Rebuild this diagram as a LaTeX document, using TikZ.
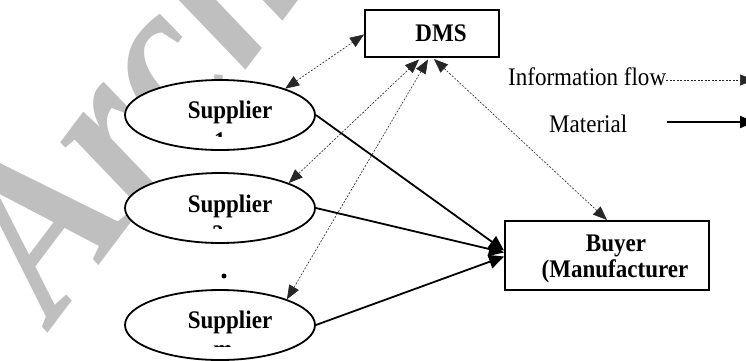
\documentclass[tikz,border=0pt]{standalone}
\usepackage{fontspec}
\setmainfont{Liberation Serif}[FakeStretch=0.91]
\newfontfamily\stampfont{Liberation Serif}
\usetikzlibrary{shapes.geometric,arrows.meta}
\begin{document}
\begin{tikzpicture}[x=1pt,y=-1pt,
  lbl/.style={font=\fontsize{25.3}{28}\selectfont\bfseries, inner sep=0pt},
  legendtext/.style={font=\fontsize{25.3}{28}\selectfont, inner sep=0pt},
  supplier/.style={ellipse, draw, line width=1.8pt, fill=white,
    minimum width=190pt, minimum height=70pt, inner sep=0pt},
  box/.style={rectangle, draw, line width=2pt, fill=white, inner sep=0pt},
  infotip/.tip={Triangle[length=14pt,width=11pt]},
  mattip/.tip={Triangle[length=15pt,width=14pt]},
  info/.style={dash pattern=on 2pt off 1.5pt, line width=0.6pt, draw=black!85},
  material/.style={line width=1.8pt, -mattip},
  stamp/.style={font=\stampfont\fontsize{210}{215}\selectfont\bfseries\itshape,
    text=black!25, inner sep=0pt}
]
\useasboundingbox[fill=white] (0,0) rectangle (746,360);

% background stamp
\node[stamp, anchor=base west, rotate=53, yscale=1.08] (stamp) at (54,325) {Archive of SID};

% boxes
\node[box, minimum width=134pt, minimum height=47pt] (dms) at (432,33.5) {};
\node[lbl, anchor=base] (dmst) at (441,41) {DMS};

\node[box, minimum width=204pt, minimum height=69pt] (buyer) at (607,255.5) {};
\node[lbl, anchor=base] (buyert) at (616,251) {Buyer};
\node[lbl, anchor=base] (buyert2) at (615,277) {(Manufacturer};

% suppliers
\node[supplier] (s1) at (220,115) {};
\node[supplier] (s2) at (220,208) {};
\node[supplier] (sm) at (220,325) {};

\node[lbl, anchor=base] (s1t) at (230,118) {Supplier};
\node[lbl, anchor=base] (s2t) at (230,212) {Supplier};
\node[lbl, anchor=base] (smt) at (230,328) {Supplier};

% second lines, cut short by the ellipse text area
\begin{scope}
  \clip (150,100) rectangle (300,136);
  \node[lbl, anchor=base] (s1n) at (220,149) {1};
\end{scope}
\begin{scope}
  \clip (150,200) rectangle (300,228);
  \node[lbl, anchor=base] (s2n) at (218,242.5) {2};
\end{scope}
\begin{scope}
  \clip (150,330) rectangle (300,346);
  \node[lbl, anchor=base] (smn) at (223,357.5) {m};
\end{scope}

\node[circle, fill, inner sep=0pt, minimum size=5pt] (dot) at (224,276) {};

% information flow
\draw[info, infotip-infotip] (s1.22) -- ([yshift=-1pt]dms.west);
\draw[info, infotip-infotip] (s2.20) -- ([xshift=-13pt,yshift=-1.5pt]dms.south);
\draw[info, infotip-infotip] (sm.21) -- ([xshift=-4pt,yshift=-1.5pt]dms.south);
\draw[info, infotip-infotip] (buyer.north) -- ([xshift=2pt,yshift=-1pt]dms.south);

% material flow
\draw[material] (s1.east) -- ([yshift=5pt]buyer.west);
\draw[material] (s2.east) -- ([yshift=3pt]buyer.west);
\draw[material] (sm.east) -- ([yshift=-1pt]buyer.west);

% legend
\node[legendtext, anchor=base west] (infolbl) at (508,85) {Information flow};
\node[legendtext, anchor=base west] (matlbl) at (549,132) {Material};
\coordinate (infoend) at (754,80);
\coordinate (matstart) at (667,122);
\coordinate (matend) at (754,122);
\draw[info, -infotip] (infolbl.east |- infoend) -- (infoend);
\draw[line width=2.2pt, -{Triangle[length=14pt,width=12pt]}] (matstart) -- (matend);
\end{tikzpicture}
\end{document}
